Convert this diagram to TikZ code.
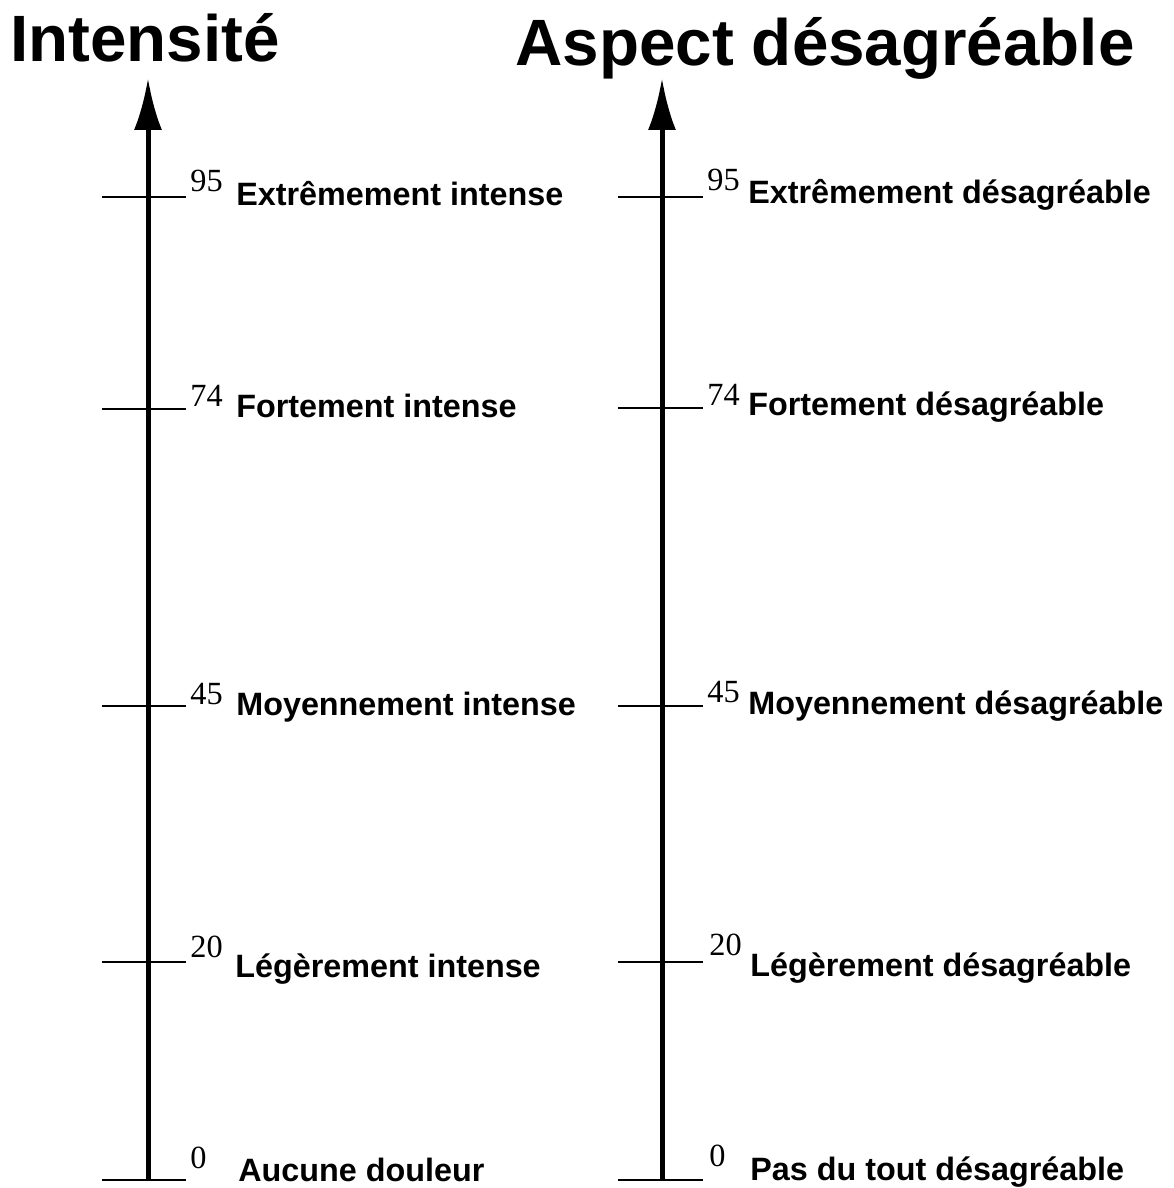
\documentclass[tikz,border=0pt]{standalone}
\usepackage{fontspec}
\setmainfont{Liberation Serif}
\setsansfont{Liberation Sans}
\usetikzlibrary{arrows.meta,positioning}

\begin{document}
\begin{tikzpicture}[
    x=0.02cm, y=-0.02cm,
    >={Latex[length=1.04cm,width=0.56cm]},
    axisline/.style={line width=0.1cm},
    tickline/.style={line width=1.3pt},
    num/.style={anchor=base west, inner sep=0pt, font=\fontsize{18.4}{20}\selectfont\rmfamily},
    lab/.style={anchor=base west, inner sep=0pt, font=\fontsize{18.4}{20}\selectfont\sffamily\bfseries},
    heading/.style={anchor=base west, inner sep=0pt, font=\fontsize{37.3}{40}\selectfont\sffamily\bfseries}
  ]
    \useasboundingbox (0,0) rectangle (1174,1188);

    % titres
    \node[heading] (tInt) at (10,61) {Intensité};
    \node[heading] (tAsp) at (515,65) {Aspect désagréable};

    % axes
    \coordinate (iBot) at (148,1180);
    \coordinate (iTop) at (148,78);
    \coordinate (aBot) at (662,1180);
    \coordinate (aTop) at (662,78);
    \draw[axisline, ->] (iBot) -- (iTop);
    \draw[axisline, ->] (aBot) -- (aTop);

    % graduations intensite
    \coordinate (i95) at (148,197);
    \coordinate (i74) at (148,409);
    \coordinate (i45) at (148,706);
    \coordinate (i20) at (148,962);
    \coordinate (i0) at (148,1180);
    \draw[tickline] ([xshift=-0.92cm]i95) -- ([xshift=0.76cm]i95);
    \draw[tickline] ([xshift=-0.92cm]i74) -- ([xshift=0.76cm]i74);
    \draw[tickline] ([xshift=-0.92cm]i45) -- ([xshift=0.76cm]i45);
    \draw[tickline] ([xshift=-0.92cm]i20) -- ([xshift=0.76cm]i20);
    \draw[tickline] ([xshift=-0.92cm]i0) -- ([xshift=0.76cm]i0);

    \node[num] (ni95) at (190,191) {95};
    \node[num] (ni74) at (190,406) {74};
    \node[num] (ni45) at (190,704) {45};
    \node[num] (ni20) at (190,957) {20};
    \node[num] (ni0) at (190,1168) {0};

    \node[lab] (li95) at (236,205) {Extrêmement intense};
    \node[lab] (li74) at (236,417) {Fortement intense};
    \node[lab] (li45) at (236,715) {Moyennement intense};
    \node[lab] (li20) at (235,977) {Légèrement intense};
    \node[lab] (li0) at (238,1181) {Aucune douleur};

    % graduations aspect desagreable
    \coordinate (a95) at (662,197);
    \coordinate (a74) at (662,408);
    \coordinate (a45) at (662,706);
    \coordinate (a20) at (662,962);
    \coordinate (a0) at (662,1180);
    \draw[tickline] ([xshift=-0.88cm]a95) -- ([xshift=0.82cm]a95);
    \draw[tickline] ([xshift=-0.88cm]a74) -- ([xshift=0.82cm]a74);
    \draw[tickline] ([xshift=-0.88cm]a45) -- ([xshift=0.82cm]a45);
    \draw[tickline] ([xshift=-0.88cm]a20) -- ([xshift=0.82cm]a20);
    \draw[tickline] ([xshift=-0.88cm]a0) -- ([xshift=0.82cm]a0);

    \node[num] (na95) at (707,190) {95};
    \node[num] (na74) at (707,405) {74};
    \node[num] (na45) at (707,702) {45};
    \node[num] (na20) at (709,955) {20};
    \node[num] (na0) at (709,1166) {0};

    \node[lab] (la95) at (748,203) {Extrêmement désagréable};
    \node[lab] (la74) at (748,415) {Fortement désagréable};
    \node[lab] (la45) at (748,714) {Moyennement désagréable};
    \node[lab] (la20) at (750,976) {Légèrement désagréable};
    \node[lab] (la0) at (750,1180) {Pas du tout désagréable};
\end{tikzpicture}
\end{document}
